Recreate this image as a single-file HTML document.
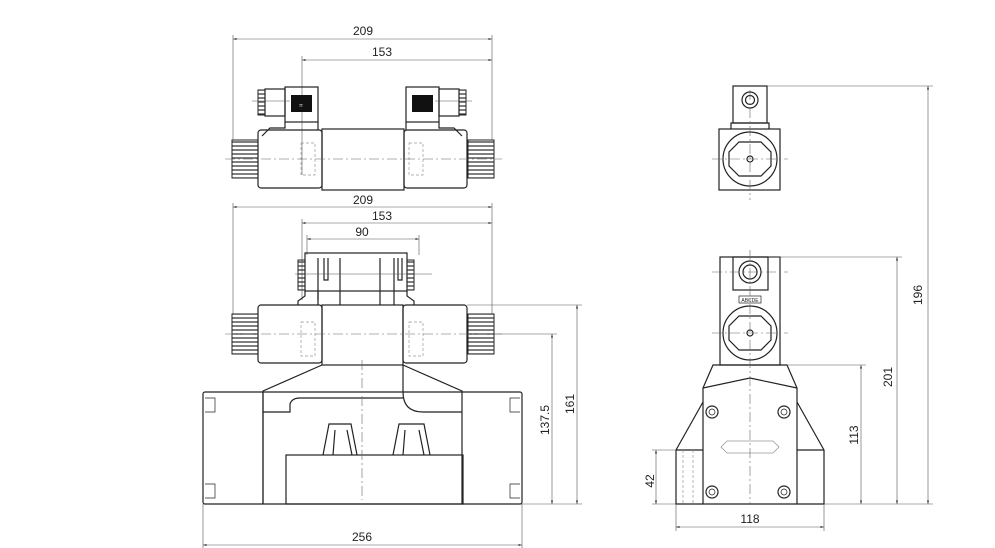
<!DOCTYPE html>
<html><head><meta charset="utf-8"><style>
html,body{margin:0;padding:0;background:#fff}
svg{display:block}
text{font-family:"Liberation Sans",sans-serif;font-size:12px;fill:#222}
.s{fill:none;stroke:#222;stroke-width:1.2}
.t{fill:none;stroke:#555;stroke-width:0.6}
.c{fill:none;stroke:#666;stroke-width:0.6;stroke-dasharray:10 3 2 3}
.h{fill:none;stroke:#999;stroke-width:0.7;stroke-dasharray:3 2}
.k{fill:none;stroke:#222;stroke-width:0.7}
</style></head><body>
<svg width="995" height="548" viewBox="0 0 995 548" xmlns="http://www.w3.org/2000/svg">
<defs>
<marker id="a" viewBox="0 0 10 10" refX="10" refY="5" markerWidth="6" markerHeight="6" orient="auto-start-reverse"><path d="M0,2 L10,5 L0,8z" fill="#333"/></marker>
<pattern id="kn" width="26" height="4" patternUnits="userSpaceOnUse"><line x1="0" y1="2" x2="26" y2="2" stroke="#333" stroke-width="1.2"/></pattern>
<pattern id="kv" width="3" height="20" patternUnits="userSpaceOnUse"><line x1="1.5" y1="0" x2="1.5" y2="20" stroke="#333" stroke-width="1"/></pattern>
</defs>

<!-- ===== TOP VIEW ===== -->
<line class="t" x1="233" y1="39" x2="492" y2="39" marker-start="url(#a)" marker-end="url(#a)"/>
<text x="363" y="35" text-anchor="middle">209</text>
<line class="t" x1="302" y1="60" x2="492" y2="60" marker-start="url(#a)" marker-end="url(#a)"/>
<text x="382" y="56" text-anchor="middle">153</text>
<line class="t" x1="233" y1="35" x2="233" y2="140"/>
<line class="t" x1="492" y1="35" x2="492" y2="140"/>
<line class="t" x1="302" y1="56" x2="302" y2="175"/>
<!-- connectors -->
<rect class="s" x="285" y="87" width="33" height="35"/>
<rect x="291" y="95" width="21" height="17" fill="#111"/>
<text x="301" y="107" text-anchor="middle" style="font-size:6px;fill:#fff">⠶</text>
<rect class="s" x="265" y="89" width="20" height="27"/>
<rect x="258" y="90" width="7" height="25" fill="url(#kn)" stroke="#222" stroke-width="1"/>
<line class="t" x1="252" y1="101" x2="290" y2="101"/>
<rect class="s" x="406" y="87" width="33" height="35"/>
<rect x="412" y="95" width="21" height="17" fill="#111"/>
<rect class="s" x="439" y="89" width="20" height="27"/>
<rect x="459" y="90" width="7" height="25" fill="url(#kn)" stroke="#222" stroke-width="1"/>
<line class="t" x1="435" y1="101" x2="472" y2="101"/>
<path class="s" d="M285,122 L285,128 L270,128 L262,136 M318,122 L318,130 M406,122 L406,130 M439,122 L439,128 L454,128 L462,136"/>
<!-- body -->
<rect class="s" x="258" y="130" width="64" height="58" rx="3"/>
<rect class="s" x="322" y="129" width="82" height="61"/>
<rect class="s" x="404" y="130" width="63" height="58" rx="3"/>
<rect x="232" y="140" width="26" height="38" fill="url(#kn)" stroke="#222" stroke-width="1"/>
<rect x="468" y="140" width="26" height="38" fill="url(#kn)" stroke="#222" stroke-width="1"/>
<rect class="h" x="301" y="143" width="14" height="32"/>
<rect class="h" x="409" y="143" width="14" height="32"/>
<line class="c" x1="225" y1="159" x2="502" y2="159"/>

<!-- ===== FRONT VIEW ===== -->
<line class="t" x1="233" y1="207" x2="492" y2="207" marker-start="url(#a)" marker-end="url(#a)"/>
<text x="363" y="204" text-anchor="middle">209</text>
<line class="t" x1="302" y1="223" x2="492" y2="223" marker-start="url(#a)" marker-end="url(#a)"/>
<text x="382" y="220" text-anchor="middle">153</text>
<line class="t" x1="307" y1="239" x2="419" y2="239" marker-start="url(#a)" marker-end="url(#a)"/>
<text x="362" y="236" text-anchor="middle">90</text>
<line class="t" x1="233" y1="203" x2="233" y2="314"/>
<line class="t" x1="492" y1="203" x2="492" y2="314"/>
<line class="t" x1="302" y1="219" x2="302" y2="300"/>
<line class="t" x1="307" y1="235" x2="307" y2="255"/>
<line class="t" x1="419" y1="235" x2="419" y2="255"/>
<!-- pilot -->
<rect class="s" x="305" y="253" width="102" height="38"/>
<rect x="298" y="260" width="7" height="30" fill="url(#kn)" stroke="#222" stroke-width="1"/>
<rect x="407" y="260" width="7" height="30" fill="url(#kn)" stroke="#222" stroke-width="1"/>
<path class="s" d="M318,258 L318,305 M340,258 L340,305 M380,258 L380,305 M394,258 L394,305 M324,258 L324,280 L328,280 L328,258 M398,258 L398,280 L402,280 L402,258"/>
<line class="t" x1="295" y1="274" x2="432" y2="274"/>
<path class="s" d="M305,291 L305,296 L298,301 L298,305 M318,291 L318,300 M407,291 L407,296 L414,301 L414,305"/>
<!-- coils -->
<rect class="s" x="258" y="305" width="64" height="58" rx="3"/>
<rect class="s" x="322" y="305" width="81" height="60"/>
<rect class="s" x="403" y="305" width="64" height="58" rx="3"/>
<rect x="232" y="314" width="26" height="40" fill="url(#kn)" stroke="#222" stroke-width="1"/>
<rect x="468" y="314" width="26" height="40" fill="url(#kn)" stroke="#222" stroke-width="1"/>
<rect class="h" x="301" y="322" width="14" height="34"/>
<rect class="h" x="409" y="322" width="14" height="34"/>
<line class="c" x1="225" y1="334" x2="502" y2="334"/>
<!-- transition -->
<path class="s" d="M322,365 L263,391 L263,504 M403,365 L403,392 Q403,412 423,412 L462,412 M403,365 L462,391 L462,504 M263,412 L290,412 L290,404 Q292,398 300,398 L403,398"/>
<!-- main body -->
<rect class="s" x="203" y="392" width="319" height="112" rx="2"/>
<line class="s" x1="263" y1="392" x2="263" y2="504"/>
<path class="k" d="M205,398 h10 v14 h-10 M205,484 h10 v14 h-10 M520,398 h-10 v14 h10 M520,484 h-10 v14 h10"/>
<rect class="s" x="286" y="455" width="177" height="49"/>
<path class="s" d="M323,455 L329,424 L351,424 L357,455 M333,455 L335,430 M347,430 L352,455 M393,455 L399,424 L424,424 L430,455 M403,455 L405,430 M419,430 L424,455"/>
<line class="c" x1="362" y1="360" x2="362" y2="500"/>
<!-- dims -->
<line class="t" x1="467" y1="305" x2="582" y2="305"/>
<line class="t" x1="494" y1="334" x2="557" y2="334"/>
<line class="t" x1="522" y1="504" x2="582" y2="504"/>
<line class="t" x1="552" y1="334" x2="552" y2="504" marker-start="url(#a)" marker-end="url(#a)"/>
<text transform="translate(549,420) rotate(-90)" text-anchor="middle">137.5</text>
<line class="t" x1="577" y1="305" x2="577" y2="504" marker-start="url(#a)" marker-end="url(#a)"/>
<text transform="translate(574,404) rotate(-90)" text-anchor="middle">161</text>
<line class="t" x1="203" y1="504" x2="203" y2="548"/>
<line class="t" x1="522" y1="504" x2="522" y2="548"/>
<line class="t" x1="203" y1="545" x2="522" y2="545" marker-start="url(#a)" marker-end="url(#a)"/>
<text x="362" y="541" text-anchor="middle">256</text>

<!-- ===== SIDE VIEW TOP ===== -->
<rect class="s" x="733" y="86" width="34" height="37"/>
<circle class="s" cx="750" cy="100" r="8"/>
<circle class="s" cx="750" cy="100" r="4.5" fill="#333"/>
<path class="s" d="M731,129 L731,123 L769,123 L769,129"/>
<rect class="s" x="719" y="129" width="61" height="61"/>
<circle class="s" cx="750" cy="159" r="27"/>
<path class="s" d="M739,142 h22 l10,10 v14 l-10,10 h-22 l-10,-10 v-14z"/>
<circle class="s" cx="750" cy="159" r="3"/>
<line class="c" x1="712" y1="159" x2="788" y2="159"/>
<line class="c" x1="750" y1="90" x2="750" y2="200"/>
<line class="t" x1="767" y1="86" x2="933" y2="86"/>
<line class="t" x1="928" y1="86" x2="928" y2="504" marker-start="url(#a)" marker-end="url(#a)"/>
<text transform="translate(922,295) rotate(-90)" text-anchor="middle">196</text>

<!-- ===== SIDE VIEW BOTTOM ===== -->
<rect class="s" x="720" y="257" width="60" height="108"/>
<rect class="s" x="733" y="257" width="35" height="33"/>
<circle class="s" cx="750" cy="272" r="11"/>
<circle class="s" cx="750" cy="272" r="7"/>
<rect class="k" x="739" y="296" width="22" height="7"/>
<text x="750" y="302" text-anchor="middle" style="font-size:5px">ABCDE</text>
<circle class="s" cx="750" cy="333" r="27"/>
<path class="s" d="M739,316 h22 l10,10 v14 l-10,10 h-22 l-10,-10 v-14z"/>
<circle class="s" cx="750" cy="333" r="3"/>
<line class="c" x1="712" y1="333" x2="788" y2="333"/>
<line class="c" x1="712" y1="272" x2="788" y2="272"/>
<!-- base -->
<path class="s" d="M713,365 L787,365 L797,388 L797,504 L703,504 L703,388z"/>
<path class="s" d="M703,388 L750,378 L797,388"/>
<path class="s" d="M703,402 L676,450 L676,504 L703,504 M797,402 L824,450 L824,504 L797,504 M676,450 L703,450 M797,450 L824,450"/>
<path class="h" d="M683,450 V504 M693,450 V504"/>
<g class="s"><circle cx="712" cy="412" r="6"/><circle cx="784" cy="412" r="6"/><circle cx="712" cy="492" r="6"/><circle cx="784" cy="492" r="6"/></g>
<g class="k"><circle cx="712" cy="412" r="3"/><circle cx="784" cy="412" r="3"/><circle cx="712" cy="492" r="3"/><circle cx="784" cy="492" r="3"/></g>
<path d="M727,441 h46 l6,6 l-6,6 h-46 l-6,-6z" fill="none" stroke="#999" stroke-width="0.8"/>
<line class="c" x1="750" y1="250" x2="750" y2="505"/>
<!-- dims -->
<line class="t" x1="768" y1="257" x2="902" y2="257"/>
<line class="t" x1="897" y1="257" x2="897" y2="504" marker-start="url(#a)" marker-end="url(#a)"/>
<text transform="translate(892,377) rotate(-90)" text-anchor="middle">201</text>
<line class="t" x1="787" y1="365" x2="866" y2="365"/>
<line class="t" x1="861" y1="365" x2="861" y2="504" marker-start="url(#a)" marker-end="url(#a)"/>
<text transform="translate(858,435) rotate(-90)" text-anchor="middle">113</text>
<line class="t" x1="824" y1="504" x2="933" y2="504"/>
<line class="t" x1="652" y1="450" x2="676" y2="450"/>
<line class="t" x1="652" y1="504" x2="676" y2="504"/>
<line class="t" x1="656" y1="450" x2="656" y2="504" marker-start="url(#a)" marker-end="url(#a)"/>
<text transform="translate(654,481) rotate(-90)" text-anchor="middle">42</text>
<line class="t" x1="676" y1="504" x2="676" y2="531"/>
<line class="t" x1="824" y1="504" x2="824" y2="531"/>
<line class="t" x1="676" y1="527" x2="824" y2="527" marker-start="url(#a)" marker-end="url(#a)"/>
<text x="750" y="523" text-anchor="middle">118</text>
</svg>
</body></html>
